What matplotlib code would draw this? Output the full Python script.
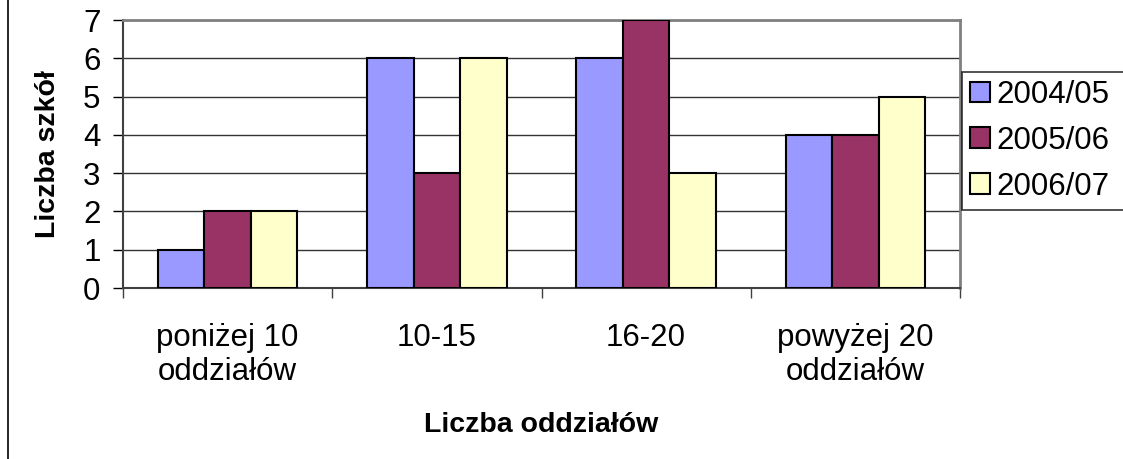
import matplotlib
matplotlib.use("Agg")
import matplotlib.pyplot as plt
from matplotlib.lines import Line2D
import numpy as np

plt.rcParams['font.family'] = ['Liberation Sans', 'DejaVu Sans']

categories = ["poniżej 10\noddziałów", "10-15", "16-20", "powyżej 20\noddziałów"]
series_names = ["2004/05", "2005/06", "2006/07"]
values_2004 = [1, 6, 6, 4]
values_2005 = [2, 3, 7, 4]
values_2006 = [2, 6, 3, 5]
series_values = [values_2004, values_2005, values_2006]
colors = ["#9999FF", "#993366", "#FFFFCC"]
y_ticks = [0, 1, 2, 3, 4, 5, 6, 7]

W, H = 1123, 459
fig = plt.figure(figsize=(W / 100, H / 100), dpi=100)
fig.patch.set_facecolor("white")

left, right, top, bottom = 123, 960, 20, 288
ax = fig.add_axes([left / W, 1 - bottom / H, (right - left) / W, (bottom - top) / H])

n = len(categories)
x = np.arange(n)
bw = 0.222
for i, (name, vals, c) in enumerate(zip(series_names, series_values, colors)):
    ax.bar(x + (i - 1) * bw, vals, width=bw, color=c, edgecolor="black",
           linewidth=1.5, label=name, zorder=3)

FS = 22.5
ax.set_xlim(-0.5, n - 0.5)
ax.set_ylim(0, 7)
ax.set_yticks(y_ticks)
ax.set_yticklabels([str(t) for t in y_ticks], fontsize=FS)
ax.tick_params(axis="y", length=7.2, width=1, color="black", pad=9)

ax.set_xticks(x)
ax.set_xticklabels(categories, fontsize=FS, linespacing=1.2)
ax.tick_params(axis="x", which="major", length=0, pad=25)
ax.set_xticks(np.arange(n + 1) - 0.5, minor=True)
ax.tick_params(axis="x", which="minor", length=7.2, width=1, color="#404040", direction="out")

ax.yaxis.grid(True, color="#333333", linewidth=1)
ax.set_axisbelow(True)

for s in ["top", "right"]:
    ax.spines[s].set_color("#808080")
    ax.spines[s].set_linewidth(2)
for s in ["left", "bottom"]:
    ax.spines[s].set_color("#404040")
    ax.spines[s].set_linewidth(1.5)

ax.set_xlabel("Liczba oddziałów", fontsize=20.5, fontweight="bold")
ax.xaxis.label.set_va("center")
ax.xaxis.set_label_coords(0.5, (bottom - 425) / (bottom - top))
ax.set_ylabel("Liczba szkół", fontsize=20.5, fontweight="bold")
ax.yaxis.label.set_va("center")
ax.yaxis.set_label_coords((48 - left) / (right - left), 0.5)

leg = fig.legend(loc="upper left",
                 bbox_to_anchor=(962 / W, 1 - 206 / H, 200 / W, 134 / H),
                 mode="expand", borderaxespad=0, fontsize=FS,
                 frameon=True, fancybox=False, edgecolor="black",
                 handlelength=0.64, handleheight=0.64, handletextpad=0.22,
                 labelspacing=0.51, borderpad=0.25)
leg.get_frame().set_linewidth(1.2)
for p in leg.get_patches():
    p.set_linewidth(1.5)

fig.add_artist(Line2D([7.5 / W, 7.5 / W], [0, 1], color="black", linewidth=1.2,
                      transform=fig.transFigure))

fig.savefig("out.png", dpi=100)
